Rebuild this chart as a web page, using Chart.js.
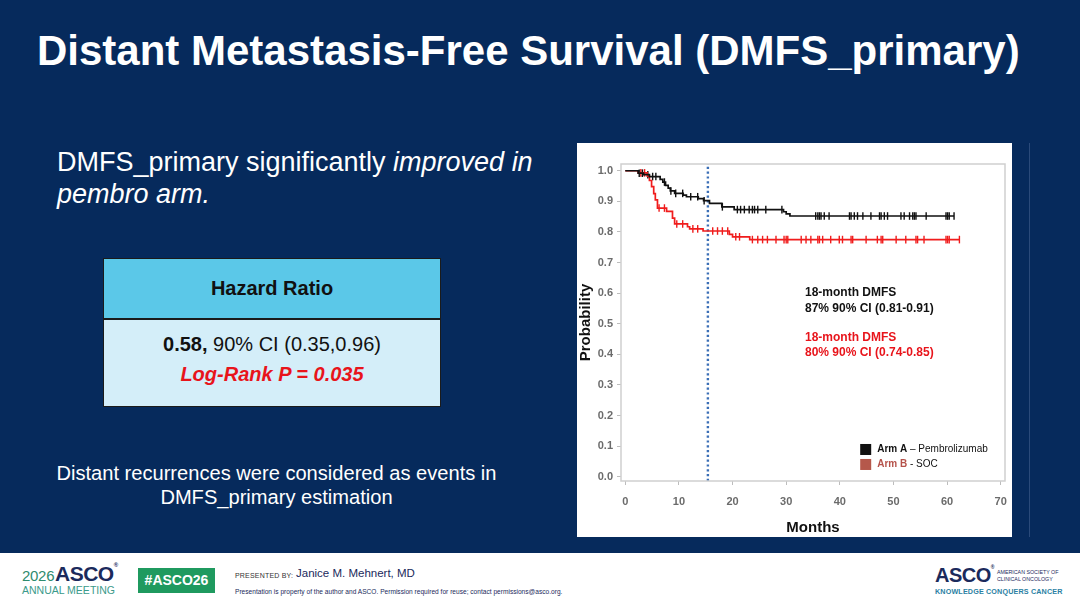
<!DOCTYPE html>
<html>
<head>
<meta charset="utf-8">
<script src="https://cdn.jsdelivr.net/npm/chart.js@4.4.1/dist/chart.umd.min.js"></script>
<style>
  body { margin: 0; width: 1080px; height: 608px; background: #062a5c; position: relative; overflow: hidden;
         font-family: "Liberation Sans", Arial, sans-serif; }
  .abs { position: absolute; white-space: nowrap; }
  #title { left: 37px; top: 30px; font-size: 42px; line-height: 42px; font-weight: bold; color: #fff; }
  #lead { left: 57px; top: 146px; font-size: 27px; line-height: 32px; color: #fff; }
  #hr { left: 103px; top: 258px; width: 336px; height: 147px; border: 1px solid #1b1b1b; background: #d4eef9; }
  #hr .head { height: 59px; background: #5bc8e8; border-bottom: 2px solid #1b1b1b; text-align: center;
              font-weight: bold; font-size: 20px; line-height: 59px; color: #111; }
  #hr .row1 { text-align: center; font-size: 20px; color: #111; margin-top: 12px; line-height: 24px; }
  #hr .row2 { text-align: center; font-size: 20px; color: #e8141b; font-weight: bold; font-style: italic; line-height: 36px; }
  #note { left: 0; width: 553px; top: 461px; font-size: 20.1px; line-height: 24px; color: #fff; text-align: center; }
  #panel { left: 577px; top: 143px; width: 435px; height: 394px; background: #fff; }
  #rule { left: 1029px; top: 143px; width: 1px; height: 394px; background: #2a4a7a; }
  #footer { left: 0; top: 553px; width: 1080px; height: 55px; background: #fff; }
</style>
</head>
<body>
<div id="title" class="abs">Distant Metastasis-Free Survival (DMFS_primary)</div>
<div id="lead" class="abs">DMFS_primary significantly <i>improved in</i><br><i>pembro arm.</i></div>
<div id="hr" class="abs">
  <div class="head">Hazard Ratio</div>
  <div class="row1"><b>0.58,</b> 90% CI (0.35,0.96)</div>
  <div class="row2">Log-Rank P = 0.035</div>
</div>
<div id="note" class="abs">Distant recurrences were considered as events in<br>DMFS_primary estimation</div>
<div id="panel" class="abs"><canvas id="km"></canvas></div>
<div id="rule" class="abs"></div>

<div id="footer" class="abs">
  <div class="abs" style="left:22px;top:14px;font-size:15px;color:#2e8b6e;letter-spacing:-0.3px;">2026</div>
  <div class="abs" style="left:55px;top:9px;font-size:21px;font-weight:bold;color:#1b2a5c;letter-spacing:-0.5px;">ASCO<span style="font-size:6px;vertical-align:top;">®</span></div>
  <div class="abs" style="left:22px;top:31px;font-size:10.5px;color:#3b9a8a;">ANNUAL MEETING</div>
  <div class="abs" style="left:138px;top:15px;width:77px;height:25px;background:#1f9a5f;color:#fff;font-weight:bold;font-size:14px;line-height:25px;text-align:center;">#ASCO26</div>
  <div class="abs" style="left:235px;top:19px;font-size:7px;color:#333;letter-spacing:0.2px;">PRESENTED BY:</div>
  <div class="abs" style="left:296px;top:14px;font-size:11.5px;color:#1b2a5c;">Janice M. Mehnert, MD</div>
  <div class="abs" style="left:235px;top:35px;font-size:6.6px;color:#1b2a5c;">Presentation is property of the author and ASCO. Permission required for reuse; contact permissions@asco.org.</div>
  <div class="abs" style="left:935px;top:11px;font-size:20px;font-weight:bold;color:#1b2a5c;letter-spacing:-0.5px;">ASCO<span style="font-size:5px;vertical-align:top;">®</span></div>
  <div class="abs" style="left:997px;top:16px;font-size:5.3px;line-height:6.5px;color:#1b2a5c;">AMERICAN SOCIETY OF<br>CLINICAL ONCOLOGY</div>
  <div class="abs" style="left:935px;top:34px;font-size:7.2px;font-weight:bold;color:#2b7fa3;letter-spacing:0.15px;">KNOWLEDGE CONQUERS CANCER</div>
</div>

<script>
// Kaplan-Meier (meses, probabilidad tras cada evento)
const armAMonths = [0, 2.4, 3.4, 4.5, 6.5, 7.0, 7.5, 8.0, 8.4, 9.2, 10.8, 11.4, 13.6, 14.6, 15.7, 18.0, 20.3, 29.5, 30.0, 30.7, 61.3];
const armAProb   = [1.0, 0.992, 0.987, 0.981, 0.972, 0.963, 0.952, 0.943, 0.934, 0.926, 0.920, 0.915, 0.909, 0.902, 0.893, 0.882, 0.873, 0.866, 0.859, 0.852, 0.852];

const armBMonths = [0, 2.4, 4.1, 4.5, 4.9, 5.3, 5.6, 6.0, 7.7, 8.8, 9.2, 11.6, 12.0, 14.5, 19.4, 20.0, 23.2, 62.3];
const armBProb   = [1.0, 0.993, 0.982, 0.968, 0.948, 0.925, 0.905, 0.878, 0.867, 0.845, 0.826, 0.817, 0.810, 0.803, 0.792, 0.784, 0.775, 0.775];

// Censurados (marcas verticales)
const armACensor = [2.6, 3.2, 4.2, 5.1, 5.7, 7.3, 8.5, 9.4, 10.7, 12.2, 13.5, 14.7, 18.1, 20.9, 21.5, 22.2, 23.1, 23.7, 24.1, 24.7, 26.2, 29.2,
                    35.5, 35.9, 36.2, 36.5, 37.1, 38.0, 41.8, 42.1, 42.7, 43.3, 44.3, 45.8, 47.4, 47.7, 48.3, 48.9, 51.4, 52.0, 53.0,
                    53.6, 53.9, 54.2, 56.1, 59.8, 60.1, 60.4, 61.3];
const armBCensor = [2.9, 3.6, 6.3, 7.3, 9.6, 10.7, 12.6, 13.5, 16.3, 17.2, 18.1, 19.1, 20.6, 21.3, 23.7, 24.7, 25.6, 26.5, 28.1, 29.6, 30.0,
                    30.3, 32.8, 33.7, 34.6, 35.9, 36.2, 36.8, 38.3, 39.9, 40.5, 42.1, 42.4, 44.9, 47.0, 47.7, 48.0, 50.5, 52.3, 54.2,
                    54.5, 55.7, 59.8, 60.1, 60.4, 62.3];

const cutoffMonth = 15.4;
const xTicks = [0, 10, 20, 30, 40, 50, 60, 70];
const yTicks = [0, 0.1, 0.2, 0.3, 0.4, 0.5, 0.6, 0.7, 0.8, 0.9, 1.0];

const notesA = ['18-month DMFS', '87% 90% CI (0.81-0.91)'];
const notesB = ['18-month DMFS', '80% 90% CI (0.74-0.85)'];
const legendItems = [
    { bold: 'Arm A', rest: ' \u2013 Pembrolizumab', box: '#111111', label: '#111111' },
    { bold: 'Arm B', rest: ' - SOC', box: '#b5584b', label: '#b5524a' }
];

const X_MIN = -0.8, X_MAX = 70.8, Y_MIN = -0.014, Y_MAX = 1.022;

// valor de la curva escalonada en el tiempo t
const stepAt = (months, prob, t) => {
    let v = prob[0];
    for (let i = 0; i < months.length; i++) {
        if (months[i] <= t) v = prob[i];
    }
    return v;
};

const toPoints = (months, prob) => months.map((m, i) => ({ x: m, y: prob[i] }));
const censorPoints = (times, months, prob) => times.map(t => ({ x: t, y: stepAt(months, prob, t) }));

const FONT = '"Liberation Sans", Arial, sans-serif';

const extras = {
    id: 'extras',
    afterDatasetsDraw(chart) {
        const { ctx, chartArea: a, scales: { x, y } } = chart;
        ctx.save();
        ctx.strokeStyle = '#cfcfcf';
        ctx.lineWidth = 1.5;
        ctx.strokeRect(a.left, a.top, a.right - a.left, a.bottom - a.top);

        // textos 18 meses
        ctx.font = 'bold 12px ' + FONT;
        ctx.textBaseline = 'middle';
        ctx.textAlign = 'left';
        const tx = x.getPixelForValue(33.5);
        ctx.fillStyle = '#111';
        ctx.fillText(notesA[0], tx, y.getPixelForValue(0.600));
        ctx.fillText(notesA[1], tx, y.getPixelForValue(0.548));
        ctx.fillStyle = '#e8141b';
        ctx.fillText(notesB[0], tx, y.getPixelForValue(0.453));
        ctx.fillText(notesB[1], tx, y.getPixelForValue(0.404));

        // leyenda
        const lx = x.getPixelForValue(43.8);
        legendItems.forEach((item, i) => {
            const cy = y.getPixelForValue(0.089 - i * 0.049);
            ctx.fillStyle = item.box;
            ctx.fillRect(lx, cy - 5.5, 11, 11);
            ctx.font = 'bold 10px ' + FONT;
            ctx.fillStyle = item.label;
            ctx.fillText(item.bold, lx + 17, cy);
            const w = ctx.measureText(item.bold).width;
            ctx.font = '10px ' + FONT;
            ctx.fillStyle = '#111';
            ctx.fillText(item.rest, lx + 17 + w, cy);
        });
        ctx.restore();
    }
};

const censorStyle = (color) => ({
    showLine: false,
    pointStyle: 'line',
    rotation: 90,
    pointRadius: 3.8,
    pointBorderWidth: 1.4,
    borderColor: color,
    pointBorderColor: color,
    pointHoverRadius: 0
});

new Chart(document.getElementById('km'), {
    type: 'line',
    data: {
        datasets: [
            {
                label: 'Arm A',
                data: toPoints(armAMonths, armAProb),
                stepped: true,
                borderColor: '#111111',
                borderWidth: 1.7,
                pointRadius: 0
            },
            {
                label: 'Arm B',
                data: toPoints(armBMonths, armBProb),
                stepped: true,
                borderColor: '#f01c1c',
                borderWidth: 1.7,
                pointRadius: 0
            },
            { label: 'cens A', data: censorPoints(armACensor, armAMonths, armAProb), ...censorStyle('#111111') },
            { label: 'cens B', data: censorPoints(armBCensor, armBMonths, armBProb), ...censorStyle('#f01c1c') },
            {
                label: '18m',
                data: [{ x: cutoffMonth, y: Y_MIN }, { x: cutoffMonth, y: Y_MAX }],
                borderColor: '#3b6fb6',
                borderWidth: 2.4,
                borderDash: [2.2, 2.6],
                pointRadius: 0
            }
        ]
    },
    options: {
        responsive: true,
        maintainAspectRatio: false,
        animation: false,
        layout: { padding: { left: 0, top: 21, right: 7, bottom: 0 } },
        plugins: { legend: { display: false }, tooltip: { enabled: false } },
        scales: {
            x: {
                type: 'linear',
                min: X_MIN,
                max: X_MAX,
                afterBuildTicks: (s) => { s.ticks = xTicks.map(v => ({ value: v })); },
                afterFit: (s) => { s.height = 56; s.paddingLeft = 0; s.paddingRight = 0; },
                border: { display: false },
                grid: { drawOnChartArea: false, drawTicks: true, tickLength: 4, color: '#bdbdbd' },
                ticks: { color: '#6b6b6b', font: { family: FONT, size: 11, weight: 'bold' }, padding: 10, maxRotation: 0 },
                title: { display: true, text: 'Months', color: '#111', font: { family: FONT, size: 15, weight: 'bold' }, padding: { top: 0, bottom: 0 } }
            },
            y: {
                type: 'linear',
                min: Y_MIN,
                max: Y_MAX,
                afterBuildTicks: (s) => { s.ticks = yTicks.map(v => ({ value: v })); },
                afterFit: (s) => { s.width = 44; s.paddingTop = 0; s.paddingBottom = 0; },
                border: { display: false },
                grid: { drawOnChartArea: false, drawTicks: true, tickLength: 4, color: '#bdbdbd' },
                ticks: { color: '#6b6b6b', font: { family: FONT, size: 11, weight: 'bold' }, padding: 4,
                         callback: (v) => v.toFixed(1) },
                title: { display: true, text: 'Probability', color: '#111', font: { family: FONT, size: 15, weight: 'bold' }, padding: { top: 0, bottom: 0 } }
            }
        }
    },
    plugins: [extras]
});
</script>
</body>
</html>
